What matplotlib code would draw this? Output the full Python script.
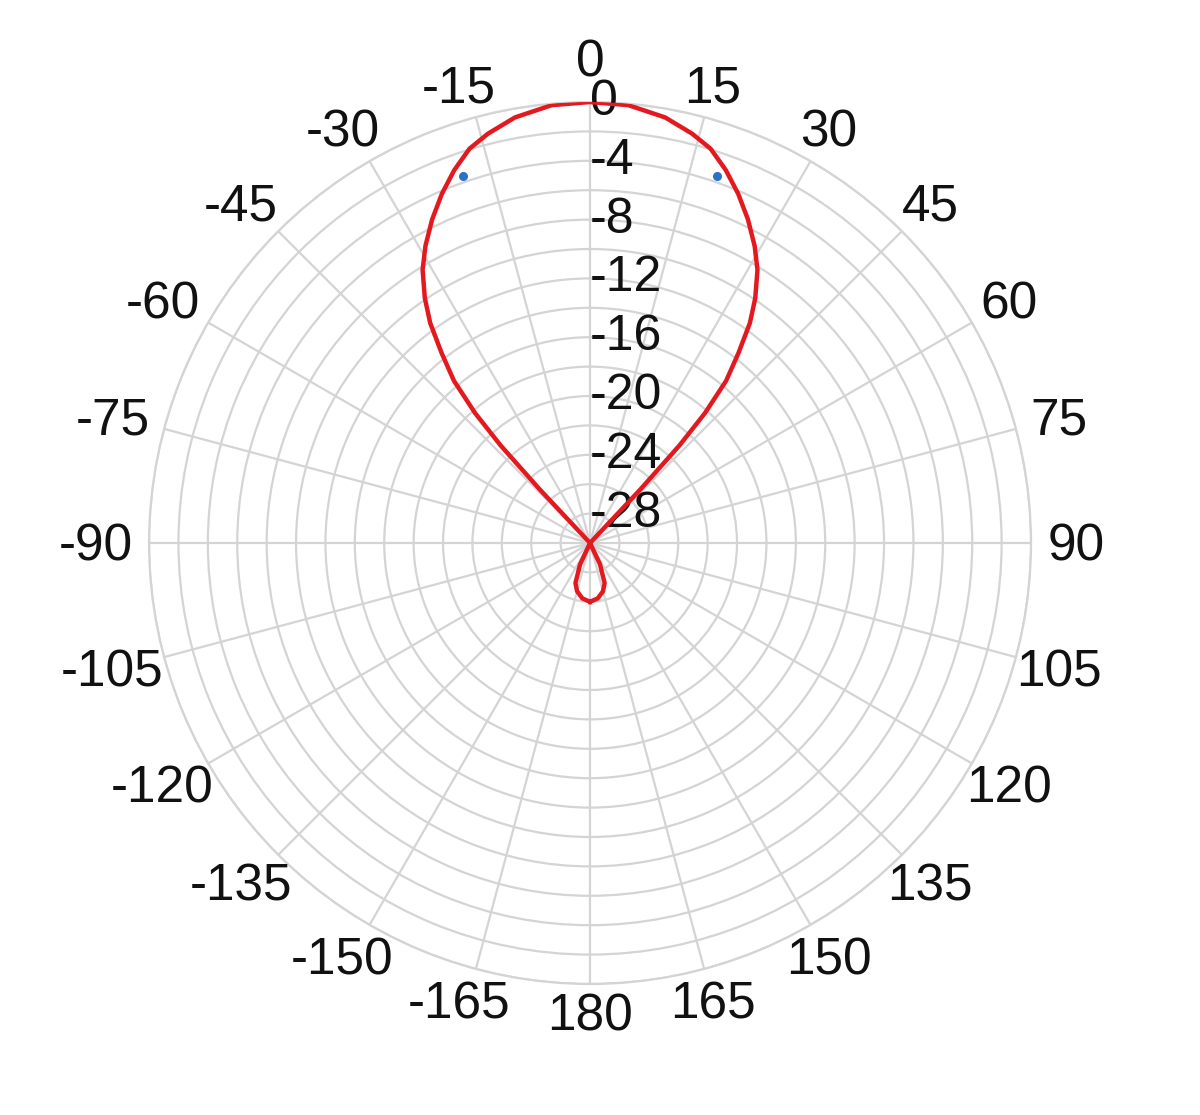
import numpy as np
import matplotlib.pyplot as plt

plt.rcParams['font.family'] = ['Liberation Sans', 'DejaVu Sans']

# radiation pattern (degrees, dB); -30 = at/below the floor
angle_deg = [-180, -172, -165, -160, -155, -150, -135, -90, -45,
             -43.8, -43.2, -42.5, -41.5, -40, -38, -36, -34, -31.5, -29,
             -26, -23, -20, -17, -14, -10, -5, 0,
             5, 10, 14, 17, 20, 23, 26, 29, 31.5,
             34, 36, 38, 40, 41.5, 42.5, 43.2, 43.8,
             45, 90, 135, 150, 155, 160, 165, 172, 180]
gain_db = [-26.0, -26.2, -26.6, -27.1, -28.4, -30, -30, -30, -30,
           -30, -25.0, -21.0, -18.2, -15.6, -13.6, -11.5, -9.9, -8.2, -6.9,
           -5.5, -4.2, -3.0, -1.95, -1.3, -0.6, -0.1, 0,
           -0.1, -0.6, -1.3, -1.95, -3.0, -4.2, -5.5, -6.9, -8.2,
           -9.9, -11.5, -13.6, -15.6, -18.2, -21.0, -25.0, -30,
           -30, -30, -30, -30, -28.4, -27.1, -26.6, -26.2, -26.0]

# half power markers
marker_deg = [-19.1, 19.1]
marker_db = [-3.55, -3.55]

theta_ticks = list(range(0, 360, 15))
theta_labels = [str(a) if a <= 180 else str(a - 360) for a in theta_ticks]
r_grid = list(range(-28, 1, 2))
r_label_vals = [0, -4, -8, -12, -16, -20, -24, -28]

fig = plt.figure(figsize=(12, 11.15), dpi=100)
ax = fig.add_axes([0.1242, 0.1175, 0.735, 0.791], projection='polar')
ax.set_theta_zero_location('N')
ax.set_theta_direction(-1)
ax.set_rlim(-30, 0)
ax.set_rticks(r_grid)
ax.set_yticklabels([])
ax.set_xticks(np.deg2rad(theta_ticks))
ax.set_xticklabels([])
ax.grid(color='#d4d4d4', linewidth=1.6)
ax.spines['polar'].set_color('#d4d4d4')
ax.spines['polar'].set_linewidth(1.6)

# angle labels just outside the rim (a bit further out at the sides)
for t, lab in zip(theta_ticks, theta_labels):
    a = np.deg2rad(t)
    d = 29 + 16 * abs(np.sin(a))
    if t == 0:
        d += 14  # keep clear of the radial "0"
    dx = d * np.sin(a)
    if lab.startswith('-'):
        dx -= 8.6
    dy = d * np.cos(a) - 4
    ax.annotate(lab, xy=(a, 0), xytext=(dx, dy), textcoords='offset pixels',
                ha='center', va='center', fontsize=37, color='#111111',
                annotation_clip=False)

for r in r_label_vals:
    ax.text(0, r, str(r), ha='left', va='center', fontsize=36,
            color='#111111', zorder=3)

ax.plot(np.deg2rad(angle_deg), gain_db, color='#e3191f', linewidth=3.2, zorder=4)
ax.plot(np.deg2rad(marker_deg), marker_db, 'o', color='#2a72c8',
        markersize=5.5, zorder=5)

plt.savefig('out.png', dpi=100)
